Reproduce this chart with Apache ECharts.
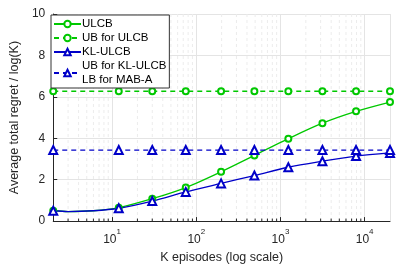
<!DOCTYPE html>
<html><head><meta charset="utf-8">
<script src="https://cdn.jsdelivr.net/npm/echarts@6/dist/echarts.min.js"></script>
<style>html,body{margin:0;padding:0;background:#fff}#c{width:398px;height:269px}</style>
</head><body><div id="c"></div>
<script>
// K values where markers are drawn
const markerK = [2, 12, 30, 75, 197, 490, 1240, 3150, 7900, 20000];
// ULCB average regret
const ulcb = [0.5, 0.65, 1.08, 1.62, 2.38, 3.17, 3.98, 4.73, 5.3, 5.75];
// KL-ULCB average regret
const klulcb = [0.5, 0.62, 0.97, 1.41, 1.82, 2.2, 2.6, 2.89, 3.14, 3.29];
// extra unmarked points (dip near K=3)
const extraK = [3, 6];
const ulcbExtra = [0.46, 0.5];
const klExtra = [0.46, 0.5];
// bounds
const ubUlcb = 6.27;
const ubKl = 3.43;
// tick values
const yTicks = [0, 2, 4, 6, 8, 10];
const xMajor = [10, 100, 1000, 10000];
const xMinor = [];
[1, 10, 100, 1000, 10000].forEach(d => { for (let m = 2; m <= 9; m++) { const v = m * d; if (v > 2 && v < 20000 && xMajor.indexOf(v) < 0) xMinor.push(v); } });

const green = '#00c800', blue = '#0000c8';
function mixed(ks, vs, eks, evs) {
  const arr = ks.map((k, i) => ({ value: [k, vs[i]] }));
  eks.forEach((k, i) => arr.push({ value: [k, evs[i]], symbol: 'none' }));
  arr.sort((a, b) => a.value[0] - b.value[0]);
  return arr;
}
const chart = echarts.init(document.getElementById('c'), null, { renderer: 'canvas' });
chart.setOption({
  animation: false,
  textStyle: { fontFamily: 'Liberation Sans, Arial, sans-serif' },
  grid: { left: 50, right: 8, top: 14, bottom: 43 },
  legend: {
    left: 51, top: 15, orient: 'vertical', itemWidth: 27, itemHeight: 8, itemGap: 0,
    backgroundColor: '#fff', borderColor: '#333', borderWidth: 1, borderRadius: 0, padding: [2, 3, 1, 2],
    textStyle: { fontSize: 11.5, color: '#000', padding: [0, 0, 0, -4], lineHeight: 14 },
    data: ['ULCB', 'UB for ULCB', 'KL-ULCB', 'UB for KL-ULCB\nLB for MAB-A']
  },
  xAxis: {
    type: 'log', logBase: 10, min: 2, max: 20000,
    name: 'K episodes (log scale)', nameLocation: 'middle', nameGap: 28,
    nameTextStyle: { fontSize: 12.5, color: '#262626' },
    axisLine: { lineStyle: { color: '#262626' } },
    axisTick: { inside: true, length: 4, lineStyle: { color: '#262626' } },
    axisLabel: {
      color: '#262626', margin: 7, showMinLabel: false, showMaxLabel: false,
      formatter: v => { const e = Math.round(Math.log10(v)); return Math.abs(Math.pow(10, e) - v) < 1e-6 ? '{b|10}{s|' + e + '}' : ''; },
      rich: {
        b: { fontSize: 12, color: '#262626', padding: [6, 0, 0, 0] },
        s: { fontSize: 8, color: '#262626', verticalAlign: 'top', padding: [0, 0, 0, 0] }
      }
    },
    splitLine: { show: true, lineStyle: { color: '#e4e4e4' } }
  },
  yAxis: {
    type: 'value', min: 0, max: 10, interval: 2,
    name: 'Average total regret / log(K)', nameLocation: 'middle', nameGap: 27,
    nameTextStyle: { fontSize: 12.5, color: '#262626' },
    axisLine: { show: true, lineStyle: { color: '#262626' } },
    axisTick: { show: true, inside: true, length: 4, lineStyle: { color: '#262626' } },
    axisLabel: { color: '#262626', fontSize: 12, margin: 8 },
    splitLine: { lineStyle: { color: '#e4e4e4' } }
  },
  series: [
    {
      type: 'custom', silent: true, z: 0,
      data: xMinor.map(v => [v, 0]),
      renderItem: (params, api) => {
        const x = api.value(0);
        const top = api.coord([x, 10]), bot = api.coord([x, 0]);
        return { type: 'group', children: [
          { type: 'line', shape: { x1: top[0], y1: top[1], x2: bot[0], y2: bot[1] }, style: { stroke: '#ececec', lineDash: [3, 3], lineWidth: 1 } },
          { type: 'line', shape: { x1: bot[0], y1: bot[1], x2: bot[0], y2: bot[1] - 2.5 }, style: { stroke: '#262626', lineWidth: 1 } }
        ] };
      }
    },
    {
      name: 'ULCB', type: 'line', smooth: 0.3, data: mixed(markerK, ulcb, extraK, ulcbExtra),
      symbol: 'emptyCircle', symbolSize: 6, color: green,
      lineStyle: { color: green, width: 1.3 }, itemStyle: { color: green, borderWidth: 1.3 }
    },
    {
      name: 'UB for ULCB', type: 'line', data: markerK.map(k => [k, ubUlcb]),
      symbol: 'emptyCircle', symbolSize: 6, color: green,
      lineStyle: { color: green, width: 1.3, type: [5, 4] }, itemStyle: { color: green, borderWidth: 1.3 }
    },
    {
      name: 'KL-ULCB', type: 'line', smooth: 0.3, data: mixed(markerK, klulcb, extraK, klExtra),
      symbol: 'emptyTriangle', symbolSize: 8, color: blue,
      lineStyle: { color: blue, width: 1.3 }, itemStyle: { color: blue, borderWidth: 1.5 }
    },
    {
      name: 'UB for KL-ULCB\nLB for MAB-A', type: 'line', data: markerK.map(k => [k, ubKl]),
      symbol: 'emptyTriangle', symbolSize: 8, color: blue,
      lineStyle: { color: blue, width: 1.3, type: [5, 4] }, itemStyle: { color: blue, borderWidth: 1.5 }
    }
  ]
});
</script></body></html>
